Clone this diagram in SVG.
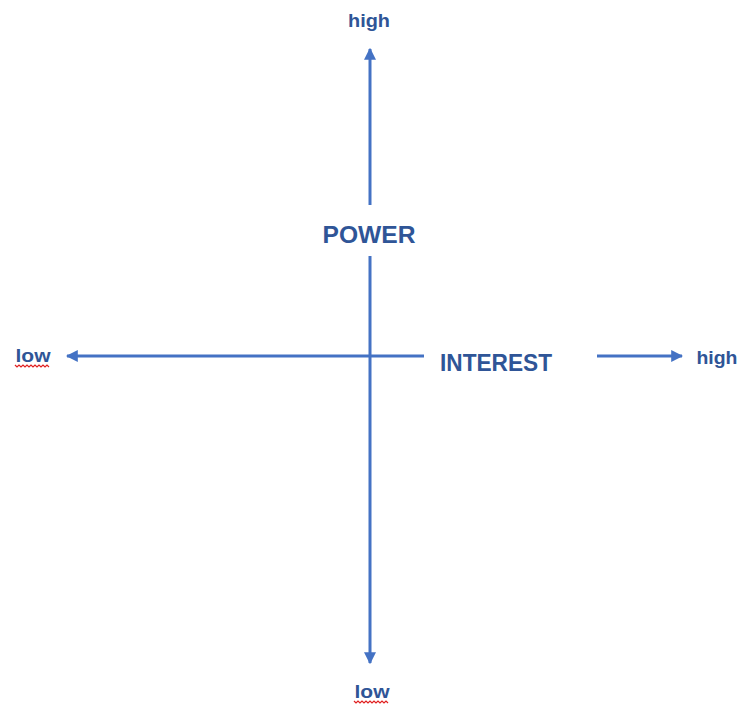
<svg xmlns="http://www.w3.org/2000/svg" width="741" height="707" viewBox="0 0 741 707">
<style>
.ax{stroke:#4472C4;stroke-width:3;fill:none}
.lbl{font-family:"Liberation Sans",Arial,sans-serif;font-weight:bold;fill:#2F5597}
.sq{stroke:#E02020;stroke-width:1.2;fill:none}
</style>
<defs>
<marker id="ah" viewBox="0 0 10 10" refX="9" refY="5" markerWidth="4" markerHeight="4" orient="auto" markerUnits="strokeWidth">
<path d="M0,0 L10,5 L0,10 Z" fill="#4472C4"/>
</marker>
</defs>
<rect width="741" height="707" fill="#fff"/>
<g id="connectors">
<line class="ax" x1="370" y1="205" x2="370" y2="49" marker-end="url(#ah)"/>
<line class="ax" x1="370" y1="256" x2="370" y2="663" marker-end="url(#ah)"/>
<line class="ax" x1="424" y1="356" x2="67" y2="356" marker-end="url(#ah)"/>
<line class="ax" x1="597" y1="356" x2="682" y2="356" marker-end="url(#ah)"/>
</g>
<g id="power"><text class="lbl" x="369" y="243" font-size="24" text-anchor="middle" textLength="93" lengthAdjust="spacingAndGlyphs">POWER</text></g>
<g id="interest"><text class="lbl" x="496" y="371" font-size="24" text-anchor="middle" textLength="112" lengthAdjust="spacingAndGlyphs">INTEREST</text></g>
<g id="high-top"><text class="lbl" x="369" y="27" font-size="19" text-anchor="middle" textLength="42" lengthAdjust="spacingAndGlyphs">high</text></g>
<g id="high-right"><text class="lbl" x="717" y="364" font-size="19" text-anchor="middle" textLength="41" lengthAdjust="spacingAndGlyphs">high</text></g>
<g id="low-left"><text class="lbl" x="33" y="362" font-size="19" text-anchor="middle" textLength="35" lengthAdjust="spacingAndGlyphs">low</text>
<path class="sq" d="M15,365 l2,2 l2,-2 l2,2 l2,-2 l2,2 l2,-2 l2,2 l2,-2 l2,2 l2,-2 l2,2 l2,-2 l2,2 l2,-2 l2,2 l2,-2 l2,2"/></g>
<g id="low-bottom"><text class="lbl" x="372" y="698" font-size="19" text-anchor="middle" textLength="35" lengthAdjust="spacingAndGlyphs">low</text>
<path class="sq" d="M354,701 l2,2 l2,-2 l2,2 l2,-2 l2,2 l2,-2 l2,2 l2,-2 l2,2 l2,-2 l2,2 l2,-2 l2,2 l2,-2 l2,2 l2,-2 l2,2"/></g>
</svg>
